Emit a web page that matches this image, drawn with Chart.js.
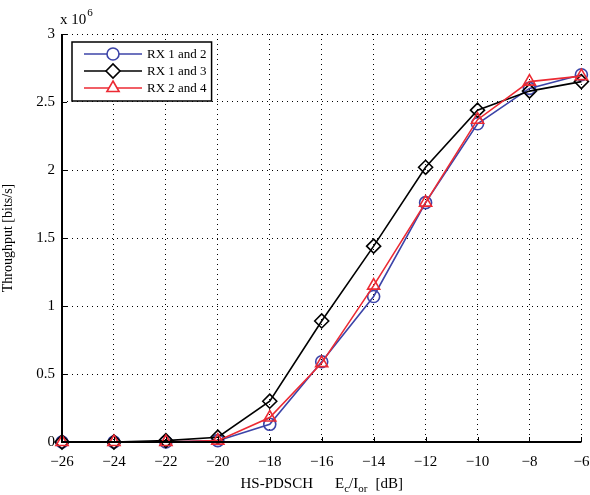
<!DOCTYPE html>
<html>
<head>
<meta charset="utf-8">
<script src="https://cdn.jsdelivr.net/npm/chart.js@4/dist/chart.umd.min.js"></script>
<style>
  html, body { margin: 0; padding: 0; background: #fff; }
  #wrap { width: 590px; height: 495px; position: relative; }
</style>
</head>
<body>
<div id="wrap"><canvas id="chart" width="590" height="495"></canvas></div>
<script>
// data (throughput in bits/s)
const ecIor = [-26, -24, -22, -20, -18, -16, -14, -12, -10, -8, -6];
const seriesNames = ['RX 1 and 2', 'RX 1 and 3', 'RX 2 and 4'];
const rx12 = [0, 0, 0, 0.01e6, 0.13e6, 0.59e6, 1.07e6, 1.76e6, 2.34e6, 2.60e6, 2.70e6];
const rx13 = [0, 0, 0.01e6, 0.035e6, 0.30e6, 0.89e6, 1.44e6, 2.02e6, 2.44e6, 2.58e6, 2.65e6];
const rx24 = [0, 0, 0, 0.01e6, 0.18e6, 0.58e6, 1.15e6, 1.76e6, 2.37e6, 2.65e6, 2.69e6];
const yTicks = [0, 0.5e6, 1e6, 1.5e6, 2e6, 2.5e6, 3e6];

const SERIF = '"Liberation Serif", "DejaVu Serif", serif';
const BLUE = '#3c44a8';
const BLACK = '#000000';
const RED = '#ec2a33';

function toPoints(vals) {
    return vals.map((v, i) => ({ x: ecIor[i], y: v }));
}

function makeSet(label, vals, color, style, radius, order) {
    return {
        label: label,
        data: toPoints(vals),
        borderColor: color,
        backgroundColor: 'rgba(0,0,0,0)',
        borderWidth: 1.6,
        pointStyle: style,
        pointRadius: radius,
        pointBorderWidth: 1.6,
        pointBorderColor: color,
        pointBackgroundColor: 'rgba(0,0,0,0)',
        tension: 0,
        clip: false,
        order: order
    };
}

// axis lines, inward ticks, exponent label, x title with subscripts, legend box
const extras = {
    id: 'extras',
    afterDatasetsDraw(chart) {
        const ctx = chart.ctx;
        const a = chart.chartArea;
        const xs = chart.scales.x, ys = chart.scales.y;
        ctx.save();
        ctx.strokeStyle = '#000';
        ctx.lineWidth = 2;
        ctx.beginPath();
        ctx.moveTo(a.left, a.top);
        ctx.lineTo(a.left, a.bottom);
        ctx.lineTo(a.right, a.bottom);
        ctx.stroke();
        ctx.lineWidth = 1;
        ctx.beginPath();
        ecIor.forEach(v => {
            const px = Math.round(xs.getPixelForValue(v)) + 0.5;
            ctx.moveTo(px, a.bottom);
            ctx.lineTo(px, a.bottom - 5);
        });
        yTicks.forEach(v => {
            const py = Math.round(ys.getPixelForValue(v)) + 0.5;
            ctx.moveTo(a.left, py);
            ctx.lineTo(a.left + 5, py);
        });
        ctx.stroke();

        ctx.fillStyle = '#000';
        ctx.textBaseline = 'alphabetic';
        ctx.textAlign = 'left';
        ctx.font = '15px ' + SERIF;
        ctx.fillText('x 10', a.left - 2, 24);
        const w10 = ctx.measureText('x 10').width;
        ctx.font = '11px ' + SERIF;
        ctx.fillText('6', a.left - 2 + w10 + 1, 16);

        // x title
        const parts = [
            ['HS-PDSCH', 15, 0, 22],
            ['E', 15, 0, 0],
            ['c', 11, 4, 0],
            ['/I', 15, 0, 0],
            ['or', 11, 4, 8],
            ['[dB]', 15, 0, 0]
        ];
        let total = 0;
        parts.forEach(p => { ctx.font = p[1] + 'px ' + SERIF; total += ctx.measureText(p[0]).width + p[3]; });
        let x = (a.left + a.right) / 2 - total / 2;
        const baseY = a.bottom + 46;
        parts.forEach(p => {
            ctx.font = p[1] + 'px ' + SERIF;
            ctx.fillText(p[0], x, baseY + p[2]);
            x += ctx.measureText(p[0]).width + p[3];
        });

        // legend
        const lx = 72, ly = 42, lh = 59;
        ctx.font = '13px ' + SERIF;
        let maxW = 0;
        chart.data.datasets.forEach(ds => { maxW = Math.max(maxW, ctx.measureText(ds.label).width); });
        const lw = 75 + maxW + 5;
        ctx.fillStyle = '#fff';
        ctx.fillRect(lx, ly, lw, lh);
        ctx.lineWidth = 1.5;
        ctx.strokeStyle = '#000';
        ctx.strokeRect(lx, ly, lw, lh);
        chart.data.datasets.forEach((ds, i) => {
            const yy = ly + 12 + i * 17;
            ctx.strokeStyle = ds.borderColor;
            ctx.lineWidth = 1.6;
            ctx.beginPath();
            ctx.moveTo(lx + 12, yy);
            ctx.lineTo(lx + 70, yy);
            ctx.stroke();
            ctx.fillStyle = '#fff';
            Chart.helpers.drawPoint(ctx, {
                pointStyle: ds.pointStyle,
                radius: ds.pointRadius,
                borderWidth: 1.6,
                rotation: 0
            }, lx + 41, yy);
            ctx.fillStyle = '#000';
            ctx.font = '13px ' + SERIF;
            ctx.textBaseline = 'middle';
            ctx.fillText(ds.label, lx + 75, yy + 1);
        });
        ctx.restore();
    }
};

const ctx = document.getElementById('chart').getContext('2d');
new Chart(ctx, {
    type: 'line',
    data: {
        datasets: [
            makeSet(seriesNames[0], rx12, BLUE, 'circle', 6, 3),
            makeSet(seriesNames[1], rx13, BLACK, 'rectRot', 7, 2),
            makeSet(seriesNames[2], rx24, RED, 'triangle', 7, 1)
        ]
    },
    options: {
        responsive: false,
        animation: false,
        layout: { padding: { top: 34, right: 7, left: 0, bottom: 0 } },
        plugins: {
            legend: { display: false },
            tooltip: { enabled: false }
        },
        scales: {
            x: {
                type: 'linear',
                min: -26,
                max: -6,
                afterBuildTicks: axis => { axis.ticks = ecIor.map(v => ({ value: v })); },
                afterFit: axis => {
                    axis.height = 53;
                    axis.paddingLeft = 0;
                    axis.paddingRight = 0;
                },
                border: { display: false, dash: [1, 4] },
                grid: { color: '#000', lineWidth: 1, drawTicks: false },
                ticks: {
                    color: '#000',
                    padding: 11,
                    font: { family: SERIF, size: 15 },
                    callback: v => (v < 0 ? '\u2212' + Math.abs(v) : String(v))
                }
            },
            y: {
                type: 'linear',
                min: 0,
                max: 3e6,
                afterBuildTicks: axis => { axis.ticks = yTicks.map(v => ({ value: v })); },
                afterFit: axis => {
                    axis.width = 62;
                    axis.paddingTop = 0;
                    axis.paddingBottom = 0;
                },
                border: { display: false, dash: [1, 4] },
                grid: { color: '#000', lineWidth: 1, drawTicks: false },
                title: {
                    display: true,
                    text: 'Throughput [bits/s]',
                    color: '#000',
                    font: { family: SERIF, size: 14 },
                    padding: { top: 0, bottom: 6 }
                },
                ticks: {
                    color: '#000',
                    padding: 7,
                    font: { family: SERIF, size: 15 },
                    callback: v => String(v / 1e6)
                }
            }
        }
    },
    plugins: [extras]
});
</script>
</body>
</html>
